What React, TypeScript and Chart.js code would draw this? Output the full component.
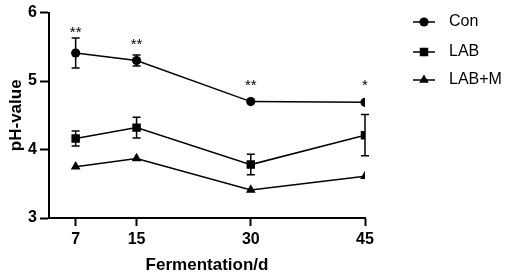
import { useEffect, useRef } from "react";
import { Chart, registerables } from "chart.js";

Chart.register(...registerables);

const days = [7, 15, 30, 45];
const xTicks = [7, 15, 30, 45];
const yTicks = [3, 4, 5, 6];
const seriesNames = ["Con", "LAB", "LAB+M"];
const conMean = [5.41, 5.3, 4.7, 4.69];
const conErr = [0.22, 0.08, 0, 0];
const labMean = [4.16, 4.32, 3.78, 4.21];
const labErr = [0.11, 0.15, 0.15, 0.3];
const labmMean = [3.75, 3.87, 3.41, 3.61];
const labmErr = [0, 0, 0, 0];
const conSig = ["**", "**", "**", "*"];
const pointStyles = ["circle", "rect", "triangle"];
const pointRadii = [4.6, 6, 5.6];

const means = [conMean, labMean, labmMean];
const errs = [conErr, labErr, labmErr];

const FONT = "'Liberation Sans', Arial, sans-serif";

function drawMarker(ctx: CanvasRenderingContext2D, style: string, r: number, x: number, y: number) {
  ctx.beginPath();
  if (style === "circle") {
    ctx.arc(x, y, r, 0, Math.PI * 2);
  } else if (style === "rect") {
    const s = Math.SQRT1_2 * r;
    ctx.rect(x - s, y - s, 2 * s, 2 * s);
  } else {
    const a = -Math.PI / 2;
    ctx.moveTo(x + Math.cos(a) * r, y + Math.sin(a) * r);
    ctx.lineTo(x + Math.cos(a + (2 * Math.PI) / 3) * r, y + Math.sin(a + (2 * Math.PI) / 3) * r);
    ctx.lineTo(x + Math.cos(a + (4 * Math.PI) / 3) * r, y + Math.sin(a + (4 * Math.PI) / 3) * r);
    ctx.closePath();
  }
  ctx.fill();
}

const errorBarPlugin = {
  id: "errorBars",
  beforeDatasetsDraw(chart: any) {
    const ctx = chart.ctx;
    const y = chart.scales.y;
    ctx.save();
    ctx.strokeStyle = "#000";
    ctx.lineWidth = 1.5;
    chart.data.datasets.forEach((ds: any, i: number) => {
      const meta = chart.getDatasetMeta(i);
      meta.data.forEach((el: any, j: number) => {
        const e = ds.errors[j];
        if (!e) return;
        const m = ds.data[j].y;
        const yt = y.getPixelForValue(m + e);
        const yb = y.getPixelForValue(m - e);
        const cap = 4;
        ctx.beginPath();
        ctx.moveTo(el.x, yt);
        ctx.lineTo(el.x, yb);
        ctx.moveTo(el.x - cap, yt);
        ctx.lineTo(el.x + cap, yt);
        ctx.moveTo(el.x - cap, yb);
        ctx.lineTo(el.x + cap, yb);
        ctx.stroke();
      });
    });
    ctx.restore();
  },
  afterDatasetsDraw(chart: any) {
    const ctx = chart.ctx;
    const y = chart.scales.y;
    const ds = chart.data.datasets[0];
    const meta = chart.getDatasetMeta(0);
    ctx.save();
    ctx.fillStyle = "#000";
    ctx.font = `15px ${FONT}`;
    ctx.textAlign = "center";
    ctx.textBaseline = "alphabetic";
    meta.data.forEach((el: any, j: number) => {
      const m = ds.data[j].y;
      const errTop = y.getPixelForValue(m + ds.errors[j]);
      const base = Math.min(el.y - 12, errTop - 1);
      ctx.fillText(ds.sig[j], el.x, base);
    });
    ctx.restore();
  },
  afterDraw(chart: any) {
    const ctx = chart.ctx;
    const area = chart.chartArea;
    const x0 = area.right + 48;
    const rows = [22, 52, 80];
    ctx.save();
    chart.data.datasets.forEach((ds: any, i: number) => {
      const yy = rows[i];
      ctx.strokeStyle = "#000";
      ctx.lineWidth = 1.5;
      ctx.beginPath();
      ctx.moveTo(x0, yy);
      ctx.lineTo(x0 + 22, yy);
      ctx.stroke();
      ctx.fillStyle = "#000";
      drawMarker(ctx, ds.pointStyle, ds.pointRadius, x0 + 11, yy);
      ctx.font = `16px ${FONT}`;
      ctx.textAlign = "left";
      ctx.textBaseline = "middle";
      ctx.fillText(ds.label, x0 + 36, yy);
    });
    ctx.restore();
  },
};

export default function App() {
  const ref = useRef<HTMLCanvasElement | null>(null);
  useEffect(() => {
    if (!ref.current) return;
    const datasets = seriesNames.map((name, i) => ({
      label: name,
      data: days.map((d, j) => ({ x: d, y: means[i][j] })),
      errors: errs[i],
      sig: i === 0 ? conSig : [],
      borderColor: "#000",
      backgroundColor: "#000",
      borderWidth: 1.5,
      pointStyle: pointStyles[i],
      pointRadius: pointRadii[i],
      pointBackgroundColor: "#000",
      pointBorderColor: "#000",
      pointBorderWidth: 0,
      tension: 0,
    }));
    const chart = new Chart(ref.current, {
      type: "line",
      data: { datasets } as any,
      plugins: [errorBarPlugin as any],
      options: {
        responsive: false,
        animation: false,
        layout: { padding: { top: 10, right: 145, left: 0, bottom: 0 } },
        plugins: { legend: { display: false }, tooltip: { enabled: false } },
        scales: {
          x: {
            type: "linear",
            min: 3.5,
            max: 45,
            afterBuildTicks: (s: any) => {
              s.ticks = xTicks.map((v) => ({ value: v }));
            },
            afterFit: (s: any) => {
              s.height = 58;
            },
            grid: {
              display: true,
              drawOnChartArea: false,
              drawTicks: true,
              tickLength: 8,
              tickColor: "#000",
              tickWidth: 2,
              color: "#000",
            },
            border: { display: true, color: "#000", width: 2 },
            ticks: {
              color: "#000",
              font: { family: FONT, size: 16, weight: "bold" },
              padding: 4,
              maxRotation: 0,
              autoSkip: false,
            },
            title: {
              display: true,
              text: "Fermentation/d",
              color: "#000",
              font: { family: FONT, size: 17, weight: "bold" },
              padding: { top: 0, bottom: 0 },
            },
          },
          y: {
            min: 3,
            max: 6,
            afterBuildTicks: (s: any) => {
              s.ticks = yTicks.map((v) => ({ value: v }));
            },
            afterFit: (s: any) => {
              s.width = 49;
            },
            grid: {
              display: true,
              drawOnChartArea: false,
              drawTicks: true,
              tickLength: 9,
              tickColor: "#000",
              tickWidth: 2,
              color: "#000",
            },
            border: { display: true, color: "#000", width: 2 },
            ticks: {
              color: "#000",
              font: { family: FONT, size: 16, weight: "bold" },
              padding: 3,
            },
            title: {
              display: true,
              text: "pH-value",
              color: "#000",
              font: { family: FONT, size: 17, weight: "bold" },
              padding: { top: 6, bottom: 0 },
            },
          },
        },
      } as any,
    });
    return () => chart.destroy();
  }, []);
  return (
    <div style={{ position: "fixed", left: 0, top: 0, width: 510, height: 276, background: "#fff" }}>
      <canvas ref={ref} width={510} height={276} style={{ display: "block" }} />
    </div>
  );
}
